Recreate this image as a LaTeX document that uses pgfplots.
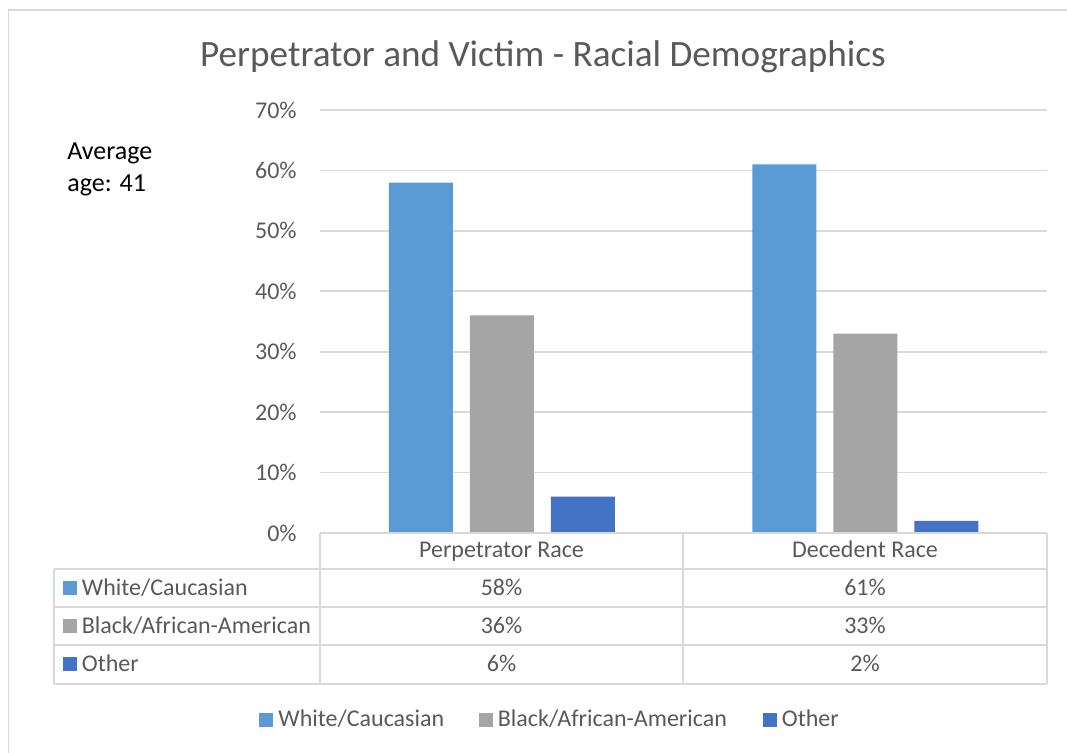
\documentclass[border=0pt]{standalone}
\usepackage{pgfplots}
\pgfplotsset{compat=1.18}
\usepackage{fontspec}
\setmainfont{Carlito}
\definecolor{cW}{HTML}{5B9BD5}
\definecolor{cB}{HTML}{A5A5A5}
\definecolor{cO}{HTML}{4472C4}
\definecolor{gridc}{HTML}{D9D9D9}
\definecolor{txt}{HTML}{595959}
\newcommand{\tfont}{\fontsize{12pt}{14pt}\selectfont}
\begin{document}
\begin{tikzpicture}
\path[use as bounding box] (0,0) rectangle (533.5pt,376.5pt);
\begin{axis}[
  at={(160pt,110pt)}, anchor=south west,
  width=363.5pt, height=211.5pt, scale only axis,
  xmin=-0.5, xmax=1.5, ymin=0, ymax=70,
  xtick=\empty,
  ytick={0,10,...,70},
  yticklabel={\pgfmathprintnumber{\tick}\%},
  /pgf/number format/assume math mode=true,
  ymajorgrids, grid style={gridc, line width=0.9pt},
  axis line style={draw=none},
  major tick length=0pt,
  yticklabel style={font=\tfont, text=txt, inner sep=0pt, anchor=east, xshift=-11.5pt},
  clip=false,
]
\addplot[ybar, bar width=32pt, bar shift=-40.5pt, fill=cW, draw=none] coordinates {(0,58) (1,61)};
\addplot[ybar, bar width=32pt, bar shift=0pt, fill=cB, draw=none] coordinates {(0,36) (1,33)};
\addplot[ybar, bar width=32pt, bar shift=40.5pt, fill=cO, draw=none] coordinates {(0,6) (1,2)};
\end{axis}
\begin{scope}[x=0.5pt, y=-0.5pt, shift={(0pt,376.5pt)}]
% outer border
\draw[gridc, line width=0.9pt] (8.5,753) -- (8.5,10) -- (1067,10);
% title
\node[anchor=base, inner sep=0pt, text=txt, font=\fontsize{18.6pt}{22pt}\selectfont] at (543,67) {Perpetrator and Victim - Racial Demographics};
% text box
\node[anchor=base west, inner sep=0pt, font=\fontsize{13pt}{16pt}\selectfont] at (67,160) {Average};
\node[anchor=base west, inner sep=0pt, font=\fontsize{13pt}{16pt}\selectfont] at (67,192) {age: 41};
% data table
\draw[gridc, line width=0.9pt] (320,533) -- (1047,533);
\draw[gridc, line width=0.9pt] (54,569) -- (1047,569);
\draw[gridc, line width=0.9pt] (54,607) -- (1047,607);
\draw[gridc, line width=0.9pt] (54,645) -- (1047,645);
\draw[gridc, line width=0.9pt] (54,684) -- (1047,684);
\draw[gridc, line width=0.9pt] (320,533) -- (320,684);
\draw[gridc, line width=0.9pt] (683,533) -- (683,684);
\draw[gridc, line width=0.9pt] (1047,533) -- (1047,684);
\draw[gridc, line width=0.9pt] (54,569) -- (54,684);
\begin{scope}[every node/.style={inner sep=0pt, text=txt, font=\tfont}]
\node[anchor=base] at (501.5,558) {Perpetrator Race};
\node[anchor=base] at (865,558) {Decedent Race};
\node[anchor=base] at (501.5,596) {58\%};
\node[anchor=base] at (865,596) {61\%};
\node[anchor=base] at (501.5,634) {36\%};
\node[anchor=base] at (865,634) {33\%};
\node[anchor=base] at (501.5,672) {6\%};
\node[anchor=base] at (865,672) {2\%};
\fill[cW] (62.5,581) rectangle (76.5,595);
\node[anchor=base west] at (81.5,596) {White/Caucasian};
\fill[cB] (62.5,619) rectangle (76.5,633);
\node[anchor=base west] at (81.5,634) {Black/African-American};
\fill[cO] (62.5,657) rectangle (76.5,671);
\node[anchor=base west] at (81.5,672) {Other};
% legend
\fill[cW] (258.5,713) rectangle (272.5,727);
\node[anchor=base west] at (278,727) {White/Caucasian};
\fill[cB] (478.5,713) rectangle (492.5,727);
\node[anchor=base west] at (497.5,727) {Black/African-American};
\fill[cO] (762.5,713) rectangle (776.5,727);
\node[anchor=base west] at (781.5,727) {Other};
\end{scope}
\end{scope}
\end{tikzpicture}
\end{document}
